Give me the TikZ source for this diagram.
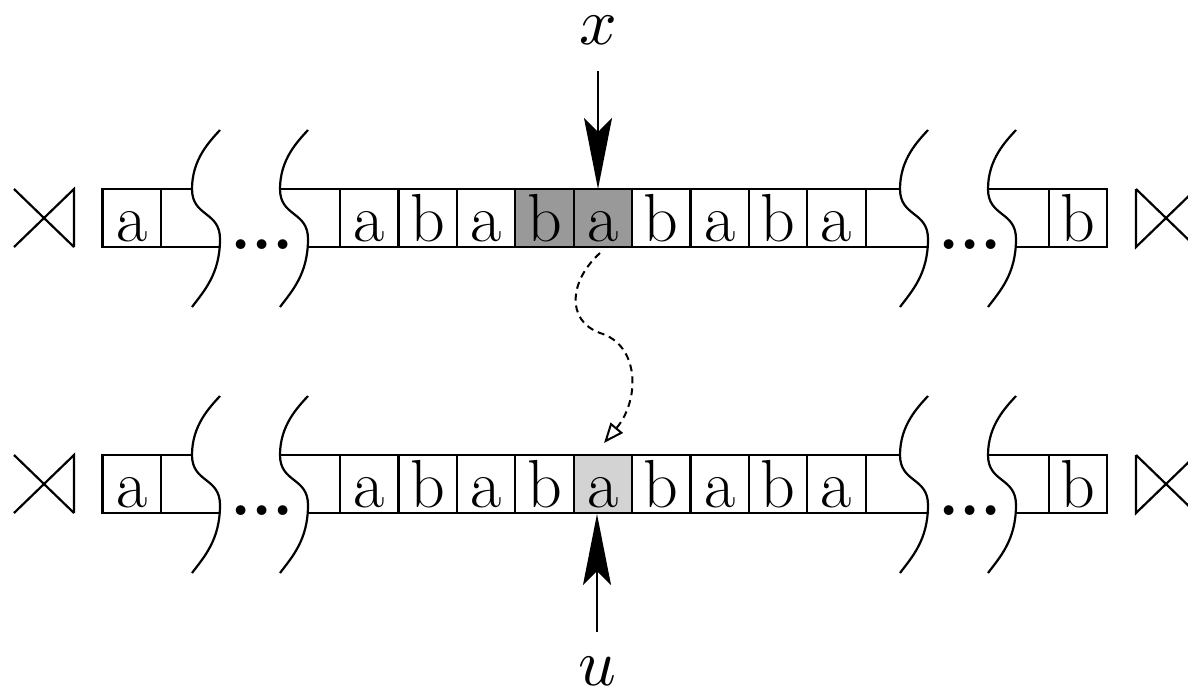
\documentclass[tikz,border=0pt]{standalone}
\usepackage{fontspec}
\usetikzlibrary{arrows.meta}
\definecolor{darkcell}{HTML}{999999}
\definecolor{lightcell}{HTML}{D3D3D3}
\tikzset{
  cell/.style={draw, rectangle, minimum width=58.4pt, minimum height=58pt, inner sep=0pt, text height=50pt, text depth=4pt},
  dotsnode/.style={inner sep=0pt, anchor=base, font=\fontsize{68}{80}\selectfont\bfseries},
  squig/.pic={\draw (28,-59) .. controls (18,-48) and (0,-30) .. (0,0) .. controls (0,28) and (28,22) .. (28,50) .. controls (28,85) and (12,102) .. (0,118);},
  pointer/.style={line width=2pt, -{Stealth[length=71pt,width=28pt,inset=14pt]}},
  link/.style={line width=2pt, dash pattern=on 7pt off 5pt, -{Triangle[open,length=20pt,width=16pt]}},
  lab/.style={anchor=base, inner sep=0pt, font=\normalsize, scale=6.6}
}
\newcommand\tapeRow[4]{%
  \pgfmathsetmacro\yb{#1+58}%
  \pgfmathsetmacro\ym{#1+29}%
  \pgfmathsetmacro\yd{#1+60}%
  % left end marker
  \draw (14,#1) -- (74,\yb) (14,\yb) -- (74,#1) -- (74,\yb);
  % left segment
  \draw (192,#1) -- (102,#1) -- (102,\yb) -- (220,\yb);
  \node[cell] (#2L) at (132,\ym) {a};
  % middle segment
  \draw (280,#1) -- (900,#1);
  \draw (308,\yb) -- (928,\yb);
  \foreach \l/\f [count=\k from 0] in {a/white,b/white,a/white,b/#3,a/#4,b/white,a/white,b/white,a/white}
    {\node[cell, fill=\f] (#2\k) at ({369.2+58.4*\k},\ym) {\l};}
  % right segment
  \draw (988,#1) -- (1107,#1) -- (1107,\yb) -- (1016,\yb);
  \node[cell] (#2R) at (1078,\ym) {b};
  % right end marker
  \draw (1136,#1) -- (1136,\yb) -- (1196,#1) (1136,#1) -- (1196,\yb);
  % breaks
  \pic at (192,#1) {squig};
  \pic at (280,#1) {squig};
  \pic at (900,#1) {squig};
  \pic at (988,#1) {squig};
  \node[dotsnode] (#2d1) at (262,\yd) {...};
  \node[dotsnode] (#2d2) at (970,\yd) {...};
}
\begin{document}
\begin{tikzpicture}[x=1pt, y=-1pt, line width=2.2pt, font=\fontsize{68}{80}\selectfont]
\useasboundingbox[fill=white] (0,0) rectangle (1188,694);
\tapeRow{189}{t}{darkcell}{darkcell}
\tapeRow{455}{b}{white}{lightcell}
% top pointer
\node[lab] (xl) at (598,44) {$x$};
\coordinate (xs) at (598,71);
\coordinate (xt) at (598,189);
\draw[pointer] (xs) -- (xt);
% bottom pointer
\node[lab] (ul) at (597,685) {$u$};
\coordinate (us) at (597,632);
\coordinate (ut) at (597,514);
\draw[pointer] (us) -- (ut);
% dashed link
\coordinate (ds) at (600,253);
\coordinate (de) at (604,443);
\draw[link] (ds) .. controls (570,280) and (565,320) .. (600,333) .. controls (640,345) and (640,400) .. (de);
\end{tikzpicture}
\end{document}
